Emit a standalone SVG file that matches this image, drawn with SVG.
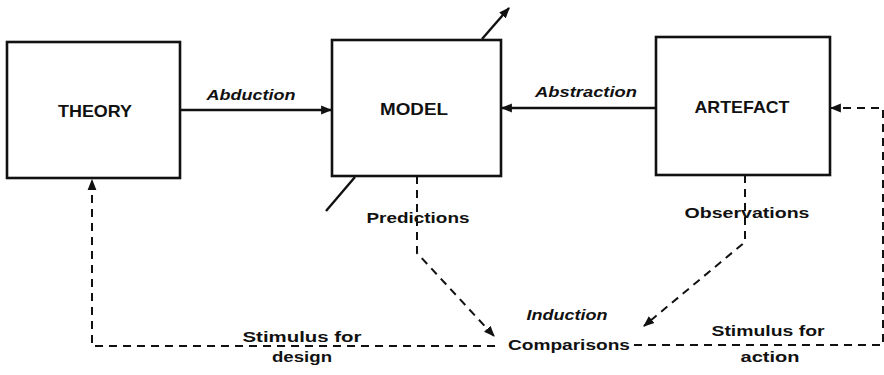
<svg xmlns="http://www.w3.org/2000/svg" width="884" height="375" viewBox="0 0 884 375">
  <defs>
    <marker id="head" viewBox="0 0 10 10" refX="9" refY="5" markerWidth="11" markerHeight="11" markerUnits="userSpaceOnUse" orient="auto">
      <path d="M0,1 L10,5 L0,9 Z" fill="#111"/>
    </marker>
  </defs>
  <style>
    .box { fill: #fff; stroke: #111; stroke-width: 2.6; }
    .title { font-family: "Liberation Sans", Arial, sans-serif; font-weight: bold; font-size: 16.5px; fill: #111; text-anchor: middle; }
    .label { font-family: "Liberation Sans", Arial, sans-serif; font-weight: bold; font-size: 15.5px; fill: #111; text-anchor: middle; }
    .ital { font-style: italic; }
    .solid { fill: none; stroke: #111; stroke-width: 2.4; }
    .dash { fill: none; stroke: #111; stroke-width: 2; stroke-dasharray: 8 6; }
    .arrow { marker-end: url(#head); }
  </style>

  <g id="connectors">
    <!-- line crossing behind the model box -->
    <path class="solid" d="M326,211 L355,177"/>
    <path class="solid arrow" d="M482,39 L509,8"/>
    <!-- abduction -->
    <path class="solid arrow" d="M180,110 L331,110"/>
    <!-- abstraction -->
    <path class="solid arrow" d="M656,108 L502,108"/>
    <!-- predictions -->
    <path class="dash arrow" d="M417,176 L417,253 L494,336"/>
    <!-- observations -->
    <path class="dash arrow" d="M745,175 L745,242 L644,326"/>
    <!-- stimulus for design -->
    <path class="dash arrow" d="M495,346 L92,346 L92,180"/>
    <!-- stimulus for action -->
    <path class="dash arrow" d="M634,345 L883,345 L883,108 L831,108"/>
  </g>

  <g id="theory">
    <rect class="box" x="7" y="42" width="173" height="136"/>
    <text class="title" x="95" y="117" textLength="74" lengthAdjust="spacingAndGlyphs">THEORY</text>
  </g>
  <g id="model">
    <rect class="box" x="332" y="40" width="169" height="136"/>
    <text class="title" x="414" y="115" textLength="68" lengthAdjust="spacingAndGlyphs">MODEL</text>
  </g>
  <g id="artefact">
    <rect class="box" x="656" y="37" width="174" height="138"/>
    <text class="title" x="742" y="113" textLength="95" lengthAdjust="spacingAndGlyphs">ARTEFACT</text>
  </g>

  <g id="labels">
    <text class="label ital" x="251" y="100" textLength="89" lengthAdjust="spacingAndGlyphs">Abduction</text>
    <text class="label ital" x="586" y="97" textLength="102" lengthAdjust="spacingAndGlyphs">Abstraction</text>
    <text class="label" x="418" y="223" textLength="103" lengthAdjust="spacingAndGlyphs">Predictions</text>
    <text class="label" x="747" y="218" textLength="125" lengthAdjust="spacingAndGlyphs">Observations</text>
    <text class="label ital" x="567" y="320" textLength="81" lengthAdjust="spacingAndGlyphs">Induction</text>
    <text class="label" x="569" y="350" textLength="122" lengthAdjust="spacingAndGlyphs">Comparisons</text>
    <text class="label" x="302" y="342" textLength="119" lengthAdjust="spacingAndGlyphs">Stimulus for</text>
    <text class="label" x="302" y="362" textLength="60" lengthAdjust="spacingAndGlyphs">design</text>
    <text class="label" x="768" y="336" textLength="113" lengthAdjust="spacingAndGlyphs">Stimulus for</text>
    <text class="label" x="770" y="362" textLength="59" lengthAdjust="spacingAndGlyphs">action</text>
  </g>
</svg>
